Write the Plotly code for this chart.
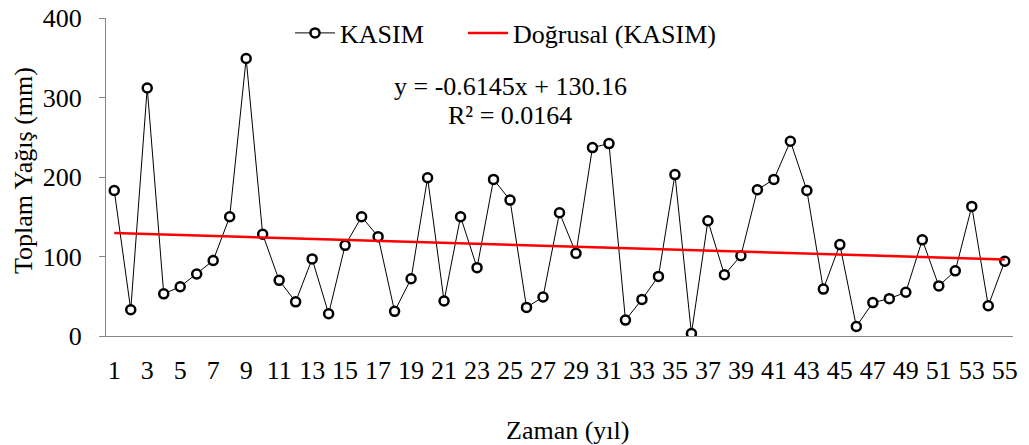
import plotly.graph_objects as go

years = list(range(1, 56))
kasim = [183, 33, 312, 53, 62, 78, 95, 150, 349, 128,
         70, 43, 97, 28, 114, 150, 125, 31, 72, 199,
         44, 150, 86, 197, 171, 36, 49, 155, 104, 237,
         242, 20, 46, 75, 203, 3, 145, 77, 101, 184,
         197, 245, 183, 59, 115, 12, 42, 47, 55, 121,
         63, 82, 163, 38, 94]
slope = -0.6145
intercept = 130.16
r2 = 0.0164
x_ticks = list(range(1, 56, 2))
y_ticks = [0, 100, 200, 300, 400]

trend = [slope * x + intercept for x in years]

FONT = "Liberation Serif"
AX = "#888888"
FS = 26

fig = go.Figure()
fig.add_trace(go.Scatter(
    x=years, y=kasim, mode="lines+markers", name="KASIM", legend="legend",
    line=dict(color="black", width=1),
    marker=dict(symbol="circle", size=9, color="white",
                line=dict(color="black", width=2.5)),
))
fig.add_trace(go.Scatter(
    x=years, y=trend, mode="lines", name="Doğrusal (KASIM)", legend="legend2",
    line=dict(color="#ff0000", width=2.5),
))

PL = 106
PT = 18
PW = 907
PH = 318


def px(xp):
    return (xp - PL) / PW


def py(yp):
    return (PT + PH - yp) / PH


leg_common = dict(orientation="h", xanchor="left", yanchor="middle",
                  bgcolor="rgba(0,0,0,0)", font=dict(size=FS, family=FONT),
                  itemwidth=40)

fig.update_layout(
    width=1029, height=445,
    margin=dict(l=PL, r=16, t=PT, b=109, autoexpand=False),
    paper_bgcolor="white", plot_bgcolor="white",
    font=dict(family=FONT, size=FS, color="black"),
    showlegend=True,
    legend=dict(x=px(290), y=py(33), **leg_common),
    legend2=dict(x=px(463), y=py(33), **leg_common),
    xaxis=dict(range=[0.5, 55.5], tickvals=x_ticks, ticktext=[str(v) for v in x_ticks],
               showline=True, linecolor=AX, linewidth=1, ticks="",
               showgrid=False, zeroline=False, ticklabelstandoff=11, automargin=False,
               tickfont=dict(size=FS, family=FONT)),
    yaxis=dict(range=[0, 400], tickvals=y_ticks,
               showline=True, linecolor=AX, linewidth=1, ticks="outside",
               ticklen=6, tickcolor=AX, showgrid=False, zeroline=False, automargin=False,
               ticklabelstandoff=12, tickfont=dict(size=FS, family=FONT)),
    annotations=[
        dict(text="Zaman (yıl)", xref="paper", yref="paper", x=px(567), y=py(430),
             showarrow=False, font=dict(size=FS, family=FONT), xanchor="center", yanchor="middle"),
        dict(text="Toplam Yağış (mm)", xref="paper", yref="paper", x=px(23), y=py(171),
             textangle=-90, showarrow=False, font=dict(size=FS, family=FONT),
             xanchor="center", yanchor="middle"),
        dict(text=f"y = {slope}x + {intercept}", xref="paper", yref="paper",
             x=px(510), y=py(87), showarrow=False, font=dict(size=FS, family=FONT),
             xanchor="center", yanchor="middle"),
        dict(text=f"R² = {r2}", xref="paper", yref="paper",
             x=px(510), y=py(115), showarrow=False, font=dict(size=FS, family=FONT),
             xanchor="center", yanchor="middle"),
    ],
)

fig.write_html("out.html")
